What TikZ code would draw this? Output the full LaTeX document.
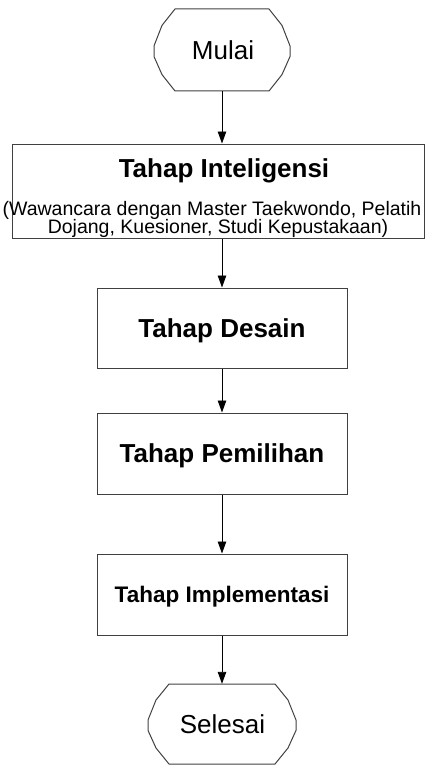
\documentclass[tikz,border=0pt]{standalone}
\usepackage{fontspec}
\setmainfont{Liberation Sans}
\usetikzlibrary{arrows.meta}
\tikzset{
  procbox/.style={draw=black!75, line width=1pt, rectangle, inner sep=0pt, fill=white},
  termline/.style={draw=black!75, line width=1pt},
  termnode/.style={rectangle, draw=none, inner sep=0pt},
  bigtitle/.style={font=\bfseries\fontsize{26}{30}\selectfont, text height=18.6pt, text depth=0pt},
  smalltitle/.style={font=\bfseries\fontsize{22.5}{26}\selectfont, text height=16.1pt, text depth=0pt},
  termtext/.style={font=\fontsize{26}{30}\selectfont, inner sep=0pt, anchor=base},
  subtext/.style={font=\fontsize{19.5}{22}\selectfont, inner sep=0pt, anchor=base},
  arr/.style={draw=black, line width=0.9pt, -{Triangle[length=12pt,width=8.5pt]}}
}
\newcommand\myterminal[4]{% xl xr top bottom
  \draw[termline] ({#1+21},{#3}) -- ({#2-21},{#3})
    -- ({#2-8},{#3+0.2*(#4-#3)}) -- ({#2},{#3+0.45*(#4-#3)})
    -- ({#2},{#3+0.58*(#4-#3)}) -- ({#2-8},{#3+0.8*(#4-#3)})
    -- ({#2-21},{#4}) -- ({#1+21},{#4})
    -- ({#1+8},{#3+0.8*(#4-#3)}) -- ({#1},{#3+0.58*(#4-#3)})
    -- ({#1},{#3+0.45*(#4-#3)}) -- ({#1+8},{#3+0.2*(#4-#3)}) -- cycle;
}
\begin{document}
\begin{tikzpicture}[x=1pt, y=-1pt]
\useasboundingbox (0,0) rectangle (425,765);

% start terminal
\myterminal{154}{290}{9}{91}
\node[termnode, minimum width=136pt, minimum height=82pt] (start) at (222,50) {};
\node[termtext] (starttxt) at (223,60) {Mulai};

% box 1
\node[procbox, minimum width=412pt, minimum height=94pt] (b1) at (218,191) {};
\node[inner sep=0pt, anchor=base, font=\bfseries\fontsize{26}{30}\selectfont] (b1title) at (224,177) {Tahap Inteligensi};
\node[subtext] (b1sub1) at (212,215) {(Wawancara dengan Master Taekwondo, Pelatih};
\node[subtext] (b1sub2) at (218,233) {Dojang, Kuesioner, Studi Kepustakaan)};

% boxes 2-4
\node[procbox, bigtitle, minimum width=250pt, minimum height=80pt] (b2) at (222,328) {Tahap Desain};
\node[procbox, bigtitle, minimum width=250pt, minimum height=81pt] (b3) at (222,453.5) {Tahap Pemilihan};
\node[procbox, smalltitle, minimum width=250pt, minimum height=81pt] (b4) at (222,594.5) {Tahap Implementasi};

% end terminal
\myterminal{148}{296}{684}{764}
\node[termnode, minimum width=148pt, minimum height=80pt] (stop) at (222,724) {};
\node[termtext] (stoptxt) at (222.5,733) {Selesai};

% arrows
\draw[arr] (start.south) -- (start.south |- b1.north);
\draw[arr] (b2.north |- b1.south) -- (b2.north);
\draw[arr] (b2.south) -- (b3.north);
\draw[arr] (b3.south) -- (b4.north);
\draw[arr] (b4.south) -- (stop.north);
\end{tikzpicture}
\end{document}
